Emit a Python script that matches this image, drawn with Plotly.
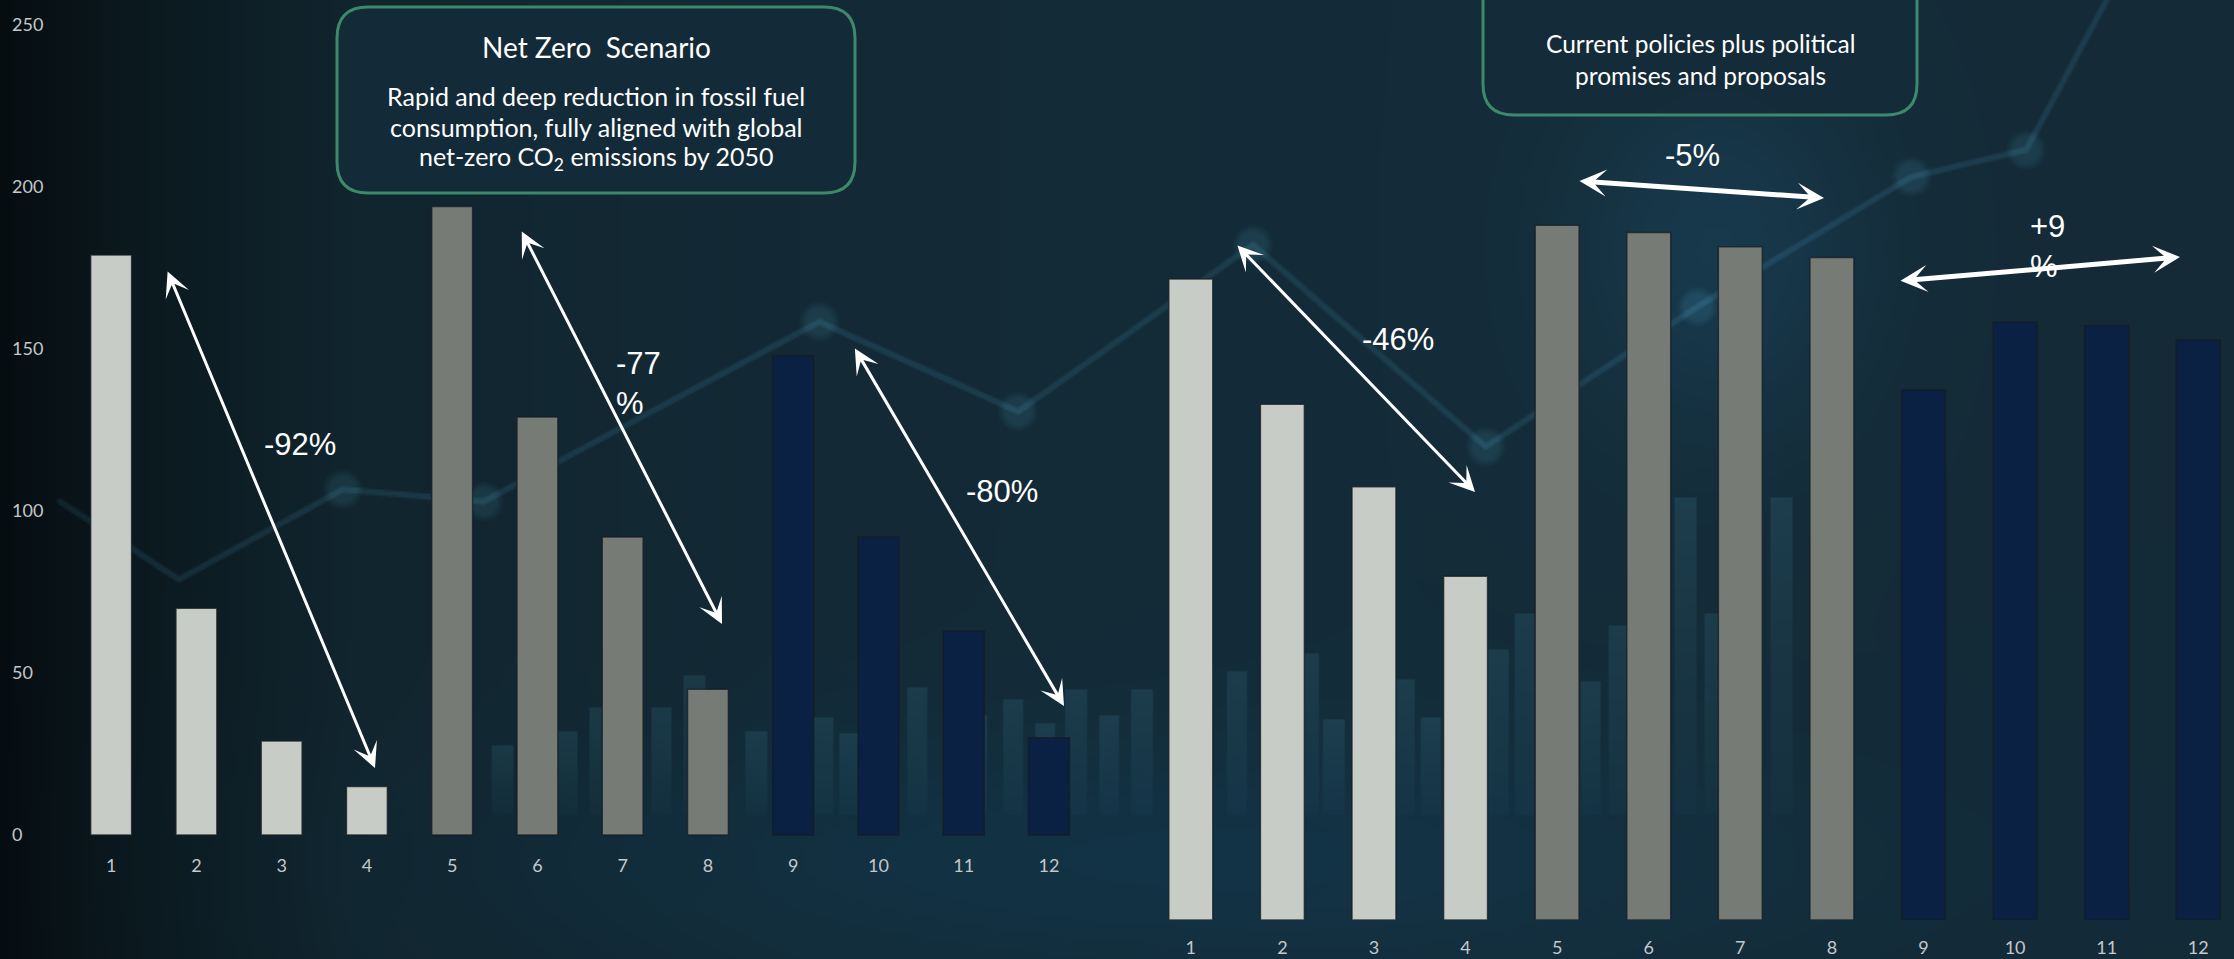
import base64
import struct
import zlib

import numpy as np
import plotly.graph_objects as go

W, H = 2234, 959

# ---- data -------------------------------------------------------------
categories = [str(i) for i in range(1, 13)]
net_zero = [179, 70, 29, 15, 194, 129, 92, 45, 148, 92, 63, 30]
announced = [179, 144, 121, 96, 194, 192, 188, 185, 148, 167, 166, 162]
y_ticks = [0, 50, 100, 150, 200, 250]

# ---- styling ------------------------------------------------------------
GROUP_COLORS = ["#c8ccc6"] * 4 + ["#767b75"] * 4 + ["#0a2144"] * 4
TICK_FONT = dict(family="Lato, 'Liberation Sans Narrow', sans-serif", size=18, color="#c3c8cb")
PCT_FONT = dict(family="'Liberation Sans', Arial, sans-serif", size=31, color="#ffffff")
BOX_FONT = "Lato, 'Open Sans', sans-serif"


def px(x):
    return x / W


def py(y):
    return 1 - y / H


# ---- background raster (gradient, haze and faint stock-chart motif) ----
def encode_png(arr):
    h, w, _ = arr.shape
    raw = b"".join(b"\x00" + arr[i].tobytes() for i in range(h))

    def chunk(tag, data):
        return (struct.pack(">I", len(data)) + tag + data
                + struct.pack(">I", zlib.crc32(tag + data) & 0xFFFFFFFF))

    return (b"\x89PNG\r\n\x1a\n"
            + chunk(b"IHDR", struct.pack(">IIBBBBB", w, h, 8, 2, 0, 0, 0))
            + chunk(b"IDAT", zlib.compress(raw, 9))
            + chunk(b"IEND", b""))


def seg_dist(X, Y, x0, y0, x1, y1):
    dx, dy = x1 - x0, y1 - y0
    t = np.clip(((X - x0) * dx + (Y - y0) * dy) / (dx * dx + dy * dy), 0, 1)
    return np.hypot(X - (x0 + t * dx), Y - (y0 + t * dy))


def background(scale=2):
    w, h = W // scale + 1, H // scale + 1
    xs = (np.arange(w) + 0.5) * scale
    ys = (np.arange(h) + 0.5) * scale
    X, Y = np.meshgrid(xs, ys)
    stops = [0, 120, 350, 800, 1400, 2234]
    chans = ([6, 11, 17, 19, 20, 20], [13, 24, 37, 42, 44, 42], [17, 30, 46, 54, 57, 55])
    rgb = np.stack([np.interp(X, stops, c) for c in chans], axis=-1)

    # lighter teal floor
    g = np.exp(-((Y - 860) / 120) ** 2) * np.exp(-((X - 1150) / 650) ** 2)
    rgb += g[..., None] * np.array([-1.0, 8.0, 14.0])
    # hazy glow on the right
    g2 = np.exp(-(((X - 1720) / 150) ** 2 + ((Y - 250) / 190) ** 2))
    rgb += g2[..., None] * np.array([4.0, 14.0, 20.0])

    # faint decorative columns
    cols = [(443, 767), (503, 747), (568, 733), (601, 708), (662, 708), (695, 677),
            (757, 733), (823, 718), (850, 735), (918, 689), (978, 717), (1014, 700),
            (1046, 725), (1077, 691), (1110, 716), (1143, 691), (1238, 672), (1310, 655),
            (1335, 721), (1405, 680), (1432, 719), (1499, 650), (1526, 614), (1592, 682),
            (1620, 627), (1687, 499), (1716, 615), (1783, 499)]
    base = 815
    for xc, top in cols:
        m = (np.abs(X - xc) <= 10) & (Y >= top) & (Y <= base)
        fade = np.clip(1 - (Y - top) / (base - top) * 0.8, 0, 1)
        rgb += (m * fade)[..., None] * np.array([9.0, 17.0, 19.0])

    # faint decorative trend line with nodes
    pts = [(60, 502), (179, 580), (343, 490), (484, 502), (820, 322), (1019, 412),
           (1254, 245), (1487, 447), (1699, 307), (1913, 177), (2028, 150), (2130, -40)]
    d = np.full(X.shape, 1e9)
    for (x0, y0), (x1, y1) in zip(pts[:-1], pts[1:]):
        d = np.minimum(d, seg_dist(X, Y, x0, y0, x1, y1))
    line_a = np.clip(1 - (d - 2.0) / 2.0, 0, 1)
    rgb += line_a[..., None] * np.array([9.0, 18.0, 22.0])
    nodes = pts[2:-1]
    for xc, yc in nodes:
        r = np.hypot(X - xc, Y - yc)
        a = np.clip(1 - (r - 13) / 8, 0, 1)
        rgb += a[..., None] * np.array([9.0, 18.0, 20.0])

    arr = np.clip(rgb, 0, 255).astype(np.uint8)
    return "data:image/png;base64," + base64.b64encode(encode_png(arr)).decode()


# ---- figure --------------------------------------------------------------
fig = go.Figure()

bar_line = dict(color="rgba(22,28,34,0.75)", width=1.5)
fig.add_trace(go.Bar(x=categories, y=net_zero, marker=dict(color=GROUP_COLORS, line=bar_line),
                     xaxis="x", yaxis="y", hoverinfo="x+y", showlegend=False))
fig.add_trace(go.Bar(x=categories, y=announced, marker=dict(color=GROUP_COLORS, line=bar_line),
                     xaxis="x2", yaxis="y2", hoverinfo="x+y", showlegend=False))

left_base, left_ppu, left_pad = 835, 3.24, 4
right_base, right_ppu = 920, 3.581

fig.update_layout(
    width=W, height=H, autosize=False,
    margin=dict(l=0, r=0, t=0, b=0),
    paper_bgcolor="#13293a", plot_bgcolor="rgba(0,0,0,0)",
    bargap=0.52,
    xaxis=dict(domain=[px(68.5), px(1091.6)], anchor="y", type="category",
               showgrid=False, zeroline=False, showline=False,
               ticks="outside", ticklen=1, tickcolor="rgba(0,0,0,0)", tickfont=TICK_FONT),
    yaxis=dict(domain=[py(left_base + left_pad * left_ppu), 1],
               range=[-left_pad, left_base / left_ppu],
               anchor="free", position=px(8), side="left", ticklabelposition="inside",
               tickvals=y_ticks, showgrid=False, zeroline=False, showline=False,
               ticks="", tickfont=TICK_FONT),
    xaxis2=dict(domain=[px(1145), 1], anchor="y2", type="category", range=[-0.5, 11.39],
                showgrid=False, zeroline=False, showline=False,
                ticks="outside", ticklen=11, tickcolor="rgba(0,0,0,0)", tickfont=TICK_FONT),
    yaxis2=dict(domain=[py(right_base), 1], range=[0, right_base / right_ppu],
                anchor="x2", visible=False),
)

fig.add_layout_image(dict(source=background(), xref="paper", yref="paper", x=0, y=1,
                          sizex=1, sizey=1, sizing="stretch", layer="below"))


# ---- scenario boxes ---------------------------------------------------------
def rounded_box(x0, y0, x1, y1, r):
    p = [
        (x0 + r, y0), (x1 - r, y0), (x1, y0), (x1, y0 + r), (x1, y1 - r), (x1, y1),
        (x1 - r, y1), (x0 + r, y1), (x0, y1), (x0, y1 - r), (x0, y0 + r), (x0, y0), (x0 + r, y0),
    ]
    c = [(px(a), py(b)) for a, b in p]
    f = lambda q: f"{q[0]:.5f},{q[1]:.5f}"
    return (f"M{f(c[0])} L{f(c[1])} Q{f(c[2])} {f(c[3])} L{f(c[4])} Q{f(c[5])} {f(c[6])} "
            f"L{f(c[7])} Q{f(c[8])} {f(c[9])} L{f(c[10])} Q{f(c[11])} {f(c[12])} Z")


box_style = dict(type="path", xref="paper", yref="paper",
                 line=dict(color="#3d8a6a", width=3), fillcolor="rgba(20,44,57,0.85)", layer="above")
fig.add_shape(path=rounded_box(337, 7, 855, 193, 31), **box_style)
fig.add_shape(path=rounded_box(1483, -60, 1917, 115, 31), **box_style)


def box_text(text, x, y, size):
    fig.add_annotation(text=text, x=px(x), y=py(y), xref="paper", yref="paper",
                       xanchor="center", yanchor="middle", showarrow=False,
                       font=dict(family=BOX_FONT, size=size, color="#ffffff"))


box_text("Net Zero\u00a0 Scenario", 596, 47, 28)
box_text("Rapid and deep reduction in fossil fuel", 596, 96, 25)
box_text("consumption, fully aligned with global", 596, 127, 25)
box_text("net-zero CO<sub>2</sub> emissions by 2050", 596, 158, 25)
box_text("Current policies plus political", 1700, 43, 24.5)
box_text("promises and proposals", 1700, 75, 24.5)


# ---- change arrows and labels -----------------------------------------------
def pct(series, a, b):
    return round((series[b] / series[a] - 1) * 100)


def arrow(x0, y0, x1, y1, width, size):
    fig.add_annotation(text="", x=px(x1), y=py(y1), xref="paper", yref="paper",
                       ax=x0 - x1, ay=y0 - y1, axref="pixel", ayref="pixel",
                       showarrow=True, arrowside="end+start", arrowhead=3, startarrowhead=3,
                       arrowsize=size, startarrowsize=size, arrowwidth=width,
                       arrowcolor="#ffffff", standoff=0, startstandoff=0)


def label(text, x, y, anchor="center"):
    fig.add_annotation(text=text, x=px(x), y=py(y), xref="paper", yref="paper",
                       xanchor=anchor, yanchor="middle", align="left", showarrow=False,
                       font=PCT_FONT)


arrow(167, 270, 375, 768, 3, 1.4)
arrow(521, 230, 722, 624, 3, 1.4)
arrow(854, 347, 1064, 706, 3, 1.4)
arrow(1236, 244, 1475, 492, 3, 1.4)
arrow(1578, 181, 1824, 198, 5, 0.9)
arrow(1899, 281, 2180, 257, 5, 0.9)

label(f"{pct(net_zero, 0, 3)}%", 300, 444)
label(f"{pct(net_zero, 4, 7)}<br>%", 614, 384, "left")
label(f"{pct(net_zero, 8, 11)}%", 1002, 491)
label(f"{pct(announced, 0, 3)}%", 1398, 339)
label(f"{pct(announced, 4, 7)}%", 1692, 155)
label(f"{pct(announced, 8, 11):+d}<br>%", 2028, 246, "left")

fig.write_html("out.html")
